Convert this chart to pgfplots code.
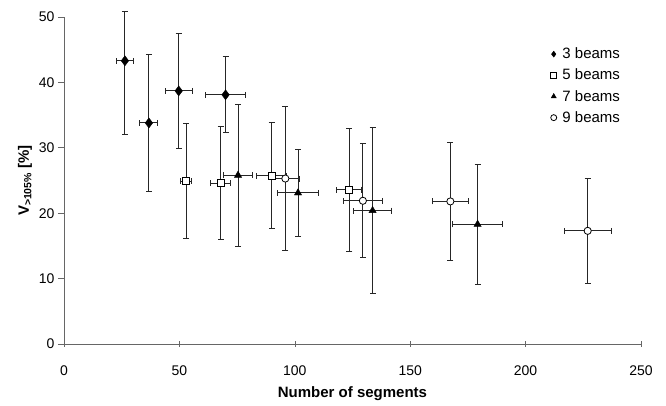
\documentclass[border=0pt]{standalone}
\usepackage{fontspec}
\setmainfont{Liberation Sans}
\usepackage{pgfplots}
\pgfplotsset{compat=1.18}
\usepackage{pgfplotstable}

\pgfplotstableread{
x     y     ex   eyp   eym
26.4  43.3  3.7  7.5   11.3
36.8  33.8  3.9  10.5  10.5
49.7  38.7  5.8  8.8   8.8
70.0  38.1  8.6  5.8   5.8
}\threebeams
\pgfplotstableread{
x     y     ex   eyp   eym
52.9  24.9  2.5  8.8   8.8
67.9  24.6  4.4  8.6   8.6
90.0  25.7  6.5  8.1   8.1
123.6 23.6  5.4  9.4   9.4
}\fivebeams
\pgfplotstableread{
x     y     ex   eyp   eym
75.4  25.8  6.2  10.9  10.9
101.4 23.1  8.9  6.7   6.7
133.7 20.4  8.2  12.7  12.7
179.2 18.3  10.8 9.2   9.2
}\sevenbeams
\pgfplotstableread{
x     y     ex   eyp   eym
95.9  25.3  6.1  11.0  11.0
129.5 21.9  8.6  8.7   8.7
167.4 21.8  7.9  9.0   9.0
226.9 17.3  10.1 8.0   8.0
}\ninebeams

\begin{document}
\begin{tikzpicture}
\path[use as bounding box] (-64pt,-62pt) rectangle (602pt,344pt);
\begin{axis}[
  at={(0,0)}, anchor=south west,
  scale only axis, width=577pt, height=327pt,
  xmin=0, xmax=250, ymin=0, ymax=50,
  xtick={0,50,...,250}, ytick={0,10,...,50},
  axis lines=left,
  axis line style={draw=black!60, line width=0.8pt, -},
  tick style={draw=black!60, line width=0.6pt},
  xtick align=center, ytick align=outside,
  major tick length=6pt,
  clip=false,
  /pgf/number format/assume math mode=true,
  tick label style={font=\fontsize{14}{16}\selectfont},
  xticklabel style={yshift=-15pt},
  xlabel={\textbf{Number of segments}},
  ylabel={\textbf{V\textsubscript{>105\%} [\%]}},
  label style={font=\fontsize{15}{17}\selectfont},
  xlabel style={yshift=-4pt},
  ylabel style={yshift=0pt},
  legend style={draw=none, fill=none, at={(0.842,0.909)}, anchor=north west,
    font=\fontsize{15}{17}\selectfont, row sep=6.8pt, inner sep=0pt,
    nodes={inner sep=1pt}},
  legend cell align=left,
  legend image code/.code={\draw[#1] plot coordinates {(3.5pt,0pt)}; \path (0pt,0pt) (11pt,0pt);},
  legend image post style={mark size=3pt},
  error bars/y dir=both, error bars/y explicit,
  error bars/x dir=both, error bars/x explicit,
  error bars/error bar style={line width=0.9pt, black!85},
  error bars/error mark options={rotate=90, mark size=3pt, line width=0.9pt, black!85},
]
\addplot[only marks, mark=diamond*, mark size=5pt, mark options={fill=black, draw=black}]
  table[x=x, y=y, x error=ex, y error plus=eyp, y error minus=eym] {\threebeams};
\addlegendentry{3 beams}
\addplot[only marks, mark=square*, mark size=3.4pt, mark options={fill=white, draw=black, line width=0.8pt}]
  table[x=x, y=y, x error=ex, y error plus=eyp, y error minus=eym] {\fivebeams};
\addlegendentry{5 beams}
\addplot[only marks, mark=triangle*, mark size=4.2pt, mark options={fill=black, draw=black}]
  table[x=x, y=y, x error=ex, y error plus=eyp, y error minus=eym] {\sevenbeams};
\addlegendentry{7 beams}
\addplot[only marks, mark=*, mark size=3.6pt, mark options={fill=white, draw=black, line width=0.8pt}]
  table[x=x, y=y, x error=ex, y error plus=eyp, y error minus=eym] {\ninebeams};
\addlegendentry{9 beams}
\end{axis}
\end{tikzpicture}
\end{document}
